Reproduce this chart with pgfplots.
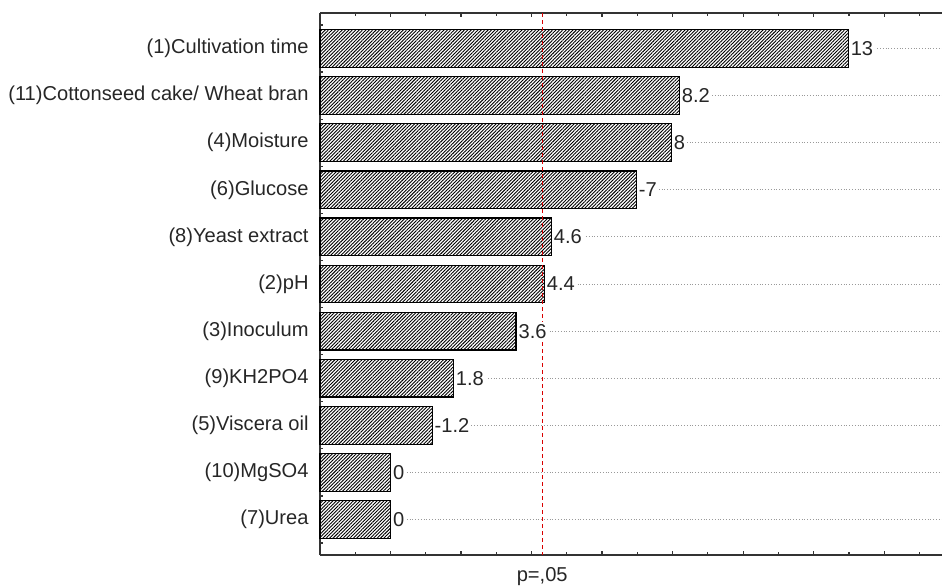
\documentclass[border=0pt]{standalone}
\usepackage{pgfplots}
\pgfplotsset{compat=1.18}
\usepackage{pgfplotstable}
\usepackage{fontspec}
\setmainfont{Liberation Sans}
\usetikzlibrary{patterns.meta}
\newcommand\lbl{\fontsize{10.05}{12}\selectfont}
\newcommand\plabel{p=,05}

% absolute standardized effects (bar length) and printed effect label
\pgfplotstableread{
idx len lab
0 12.98 13
1 8.19 8.2
2 7.96 8
3 6.97 -7
4 4.56 4.6
5 4.36 4.4
6 3.56 3.6
7 1.78 1.8
8 1.18 -1.2
9 0 0
10 0 0
}\effects

\begin{document}
\begin{tikzpicture}
\begin{axis}[
  scale only axis, width=311pt, height=271pt,
  xmin=0, xmax=17.64,
  ymin=-0.754, ymax=10.754, y dir=reverse,
  axis x line*=box, axis y line*=left,
  axis line style={black!80, line width=0.6pt},
  tick align=inside,
  xtick={0,2,...,16}, minor xtick={1,3,...,17},
  xticklabels={},
  xtick pos=both,
  major tick length=2pt, minor tick length=1.5pt,
  tick style={black!80, line width=0.6pt},
  extra x ticks={6.303},
  extra x tick labels={\plabel},
  extra x tick style={major tick length=0pt, xtick pos=bottom,
     tick label style={font=\lbl, yshift=-2.5pt, text=black!85}},
  ytick={0,...,10},
  minor ytick={-0.5,0.5,...,10.5},
  ytick pos=left,
  yticklabels={{(1)Cultivation time},{(11)Cottonseed cake/ Wheat bran},{(4)Moisture},{(6)Glucose},{(8)Yeast extract},{(2)pH},{(3)Inoculum},{(9)KH2PO4},{(5)Viscera oil},{(10)MgSO4},{(7)Urea}},
  yticklabel style={font=\lbl, xshift=-2.2pt, text=black!85},
  ymajorgrids,
  major grid style={densely dotted, black!40, line width=0.5pt},
  clip=false,
]
\addplot[xbar, bar width=0.8, draw=black, line width=0.6pt, fill=white,
  postaction={pattern={Lines[angle=45,distance=1.2pt,line width=0.45pt]}},
  x filter/.expression={x+2},
  nodes near coords, point meta=explicit symbolic,
  nodes near coords style={anchor=west, inner sep=1pt, fill=white, font=\lbl, text=black!85}]
  table[x=len, y=idx, meta=lab]{\effects};
\addplot[red!85!black, dash pattern=on 2pt off 1.5pt, line width=0.6pt,
  x filter/.expression={x+2}]
  coordinates {(4.303,-0.754) (4.303,10.754)};
\coordinate (bl) at (axis description cs:0,0);
\coordinate (tr) at (axis description cs:1,1);
\end{axis}
\pgfresetboundingbox
\path ([xshift=-160pt,yshift=-15.5pt]bl) rectangle ([yshift=6.5pt]tr);
\end{tikzpicture}
\end{document}
